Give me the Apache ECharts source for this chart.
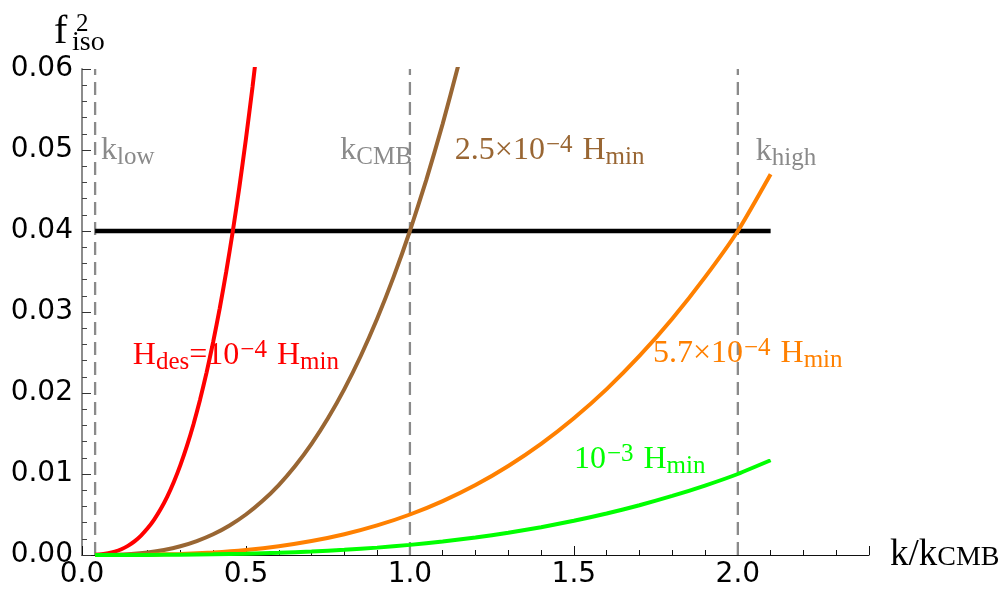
<!DOCTYPE html>
<html>
<head>
<meta charset="utf-8">
<script src="https://cdn.jsdelivr.net/npm/echarts@6/dist/echarts.min.js"></script>
<style>
  html, body { margin: 0; padding: 0; background: #ffffff; }
  #chart { width: 1004px; height: 599px; }
</style>
</head>
<body>
<div id="chart"></div>
<script>
// k / k_CMB samples and f_iso^2 values for each desert Hubble scale
const kRed = [0.04, 0.06, 0.08, 0.10, 0.12, 0.14, 0.16, 0.18, 0.20, 0.22, 0.24, 0.26, 0.28,
              0.30, 0.32, 0.34, 0.36, 0.38, 0.40, 0.42, 0.44, 0.46, 0.48, 0.50, 0.52, 0.54];
const fRed = [0.00003, 0.00009, 0.00021, 0.00041, 0.00071, 0.00113, 0.00168, 0.00240, 0.00329,
              0.00438, 0.00568, 0.00722, 0.00902, 0.01110, 0.01347, 0.01615, 0.01918, 0.02255,
              0.02630, 0.03045, 0.03501, 0.04000, 0.04545, 0.05138, 0.05779, 0.06472];

const kBrown = [0.04, 0.10, 0.15, 0.20, 0.25, 0.30, 0.35, 0.40, 0.45, 0.50, 0.55, 0.60, 0.65,
                0.70, 0.75, 0.80, 0.85, 0.90, 0.95, 1.00, 1.05, 1.10, 1.15];
const fBrown = [0.000003, 0.00004, 0.000135, 0.00032, 0.000625, 0.00108, 0.00172, 0.00256,
                0.00365, 0.00500, 0.00666, 0.00864, 0.01099, 0.01372, 0.01688, 0.02048,
                0.02457, 0.02916, 0.03430, 0.04000, 0.04631, 0.05324, 0.06083];

const kOrange = [0.04, 0.1, 0.2, 0.3, 0.4, 0.5, 0.6, 0.7, 0.8, 0.9, 1.0, 1.1, 1.2, 1.3, 1.4,
                 1.5, 1.6, 1.7, 1.8, 1.9, 2.0, 2.1];
const fOrange = [0.0000003, 0.000005, 0.00004, 0.000135, 0.00032, 0.000625, 0.00108, 0.00172,
                 0.00256, 0.00365, 0.00500, 0.00666, 0.00864, 0.01099, 0.01372, 0.01688,
                 0.02048, 0.02457, 0.02916, 0.03430, 0.04000, 0.04700];

const kGreen = [0.04, 0.1, 0.2, 0.3, 0.4, 0.5, 0.6, 0.7, 0.8, 0.9, 1.0, 1.1, 1.2, 1.3, 1.4,
                1.5, 1.6, 1.7, 1.8, 1.9, 2.0, 2.1];
const fGreen = [0.0, 0.0000013, 0.00001, 0.000034, 0.00008, 0.00016, 0.00027, 0.00043, 0.00064,
                0.00091, 0.00125, 0.00166, 0.00216, 0.00275, 0.00343, 0.00422, 0.00512,
                0.00614, 0.00729, 0.00857, 0.01000, 0.01170];

// observational bound on f_iso^2 and the k range it is drawn over
const fBound = 0.04;
const kBoundRange = [0.04, 2.1];

// reference scales: k_low, k_CMB, k_high
const kScales = [0.04, 1.0, 2.0];

const X_MIN = 0, X_MAX = 2.4, Y_MIN = 0, Y_MAX = 0.06;
const X_STEP = 0.5, Y_STEP = 0.01;

const SERIF = 'Liberation Serif';
const SANS = 'DejaVu Sans';
const WIDTH = 1004;

const zip = (xs, ys) => xs.map((x, i) => [x, ys[i]]);

const curve = (xs, ys, color) => ({
  type: 'line', data: zip(xs, ys), showSymbol: false, smooth: 0.2,
  lineStyle: { color, width: 4 }
});

const scaleLines = kScales.map(k => ({
  type: 'line', data: [[k, Y_MIN], [k, Y_MAX]], showSymbol: false,
  lineStyle: { color: '#8a8a8a', width: 2.3, type: [13, 7] }
}));

const baseOption = {
  animation: false,
  grid: { left: 82, right: 135, top: 69, bottom: 44 },
  xAxis: [{
    type: 'value', min: X_MIN, max: X_MAX, interval: X_STEP,
    axisLine: { show: true, lineStyle: { color: '#111' } },
    axisTick: { show: true, inside: true, length: 9, lineStyle: { color: '#111', width: 1 } },
    minorTick: { show: true, splitNumber: 5, length: 5, lineStyle: { color: '#111', width: 1 } },
    axisLabel: { showMaxLabel: false, margin: 6, formatter: v => v.toFixed(1),
                 fontFamily: SANS, fontSize: 28, color: '#000' },
    splitLine: { show: false }
  }],
  yAxis: [{
    type: 'value', min: Y_MIN, max: Y_MAX, interval: Y_STEP,
    axisLine: { show: true, lineStyle: { color: '#8c8c8c', width: 2 } },
    axisTick: { show: true, inside: true, length: 9, lineStyle: { color: '#333', width: 1 } },
    minorTick: { show: true, splitNumber: 5, length: 5, lineStyle: { color: '#444', width: 1 } },
    axisLabel: { margin: 9, formatter: v => v.toFixed(2),
                 fontFamily: SANS, fontSize: 28, color: '#000' },
    splitLine: { show: false }
  }],
  series: [
    ...scaleLines,
    {
      type: 'line', data: kBoundRange.map(k => [k, fBound]), showSymbol: false,
      lineStyle: { color: '#000', width: 4.5 }
    },
    curve(kRed, fRed, '#ff0000'),
    curve(kBrown, fBrown, '#996633'),
    curve(kOrange, fOrange, '#ff8000'),
    curve(kGreen, fGreen, '#00ff00')
  ]
};

// text annotations, anchored in data coordinates at the main-text baseline
const MAIN = 32, SMALL = 25;
const LINE = SMALL + 14;                       // tallest token: the lowered subscript
const topFromBaseline = b => b - 0.34 * MAIN - LINE / 2;
const richFor = color => ({
  m: { fontFamily: SERIF, fontSize: MAIN, fontWeight: 'normal', color, lineHeight: MAIN },
  s: { fontFamily: SERIF, fontSize: SMALL, fontWeight: 'normal', color, padding: [14, 0, 0, 0], lineHeight: SMALL + 14 },
  p: { fontFamily: SERIF, fontSize: SMALL, fontWeight: 'normal', color, padding: [0, 2, 10, 1], lineHeight: SMALL + 10 }
});

const annotations = [
  { text: '{m|k}{s|low}', at: [0.058, 0.0486], align: 'left', color: '#8a8a8a' },
  { text: '{m|k}{s|CMB}', at: [1.006, 0.0486], align: 'right', color: '#8a8a8a' },
  { text: '{m|2.5×10}{p|−4}{m| H}{s|min}', at: [1.137, 0.0486], align: 'left', color: '#996633' },
  { text: '{m|k}{s|high}', at: [2.055, 0.0485], align: 'left', color: '#8a8a8a' },
  { text: '{m|H}{s|des}{m|=10}{p|−4}{m| H}{s|min}', at: [0.155, 0.0233], align: 'left', color: '#ff0000' },
  { text: '{m|5.7×10}{p|−4}{m| H}{s|min}', at: [1.741, 0.0235], align: 'left', color: '#ff8000' },
  { text: '{m|10}{p|−3}{m| H}{s|min}', at: [1.5, 0.0104], align: 'left', color: '#00ff00' }
];

const dom = document.getElementById('chart');

// lay the axes out once to resolve annotation anchors in pixel space
const probe = echarts.init(dom);
probe.setOption(baseOption);
const anchors = annotations.map(a => probe.convertToPixel({ gridIndex: 0 }, a.at));
probe.dispose();

const titles = annotations.map((a, i) => {
  const [px, py] = anchors[i];
  const t = {
    text: a.text, padding: 0, top: topFromBaseline(py),
    textStyle: { fontFamily: SERIF, fontSize: MAIN, fontWeight: 'normal', color: a.color, rich: richFor(a.color) }
  };
  if (a.align === 'right') t.right = WIDTH - px; else t.left = px;
  return t;
});

// axis titles
const plain = (text, left, baseline, size) => ({
  text: '{t|' + text + '}', padding: 0, left, top: baseline - 0.34 * size - size / 2,
  textStyle: { fontFamily: SERIF, fontSize: size, fontWeight: 'normal', color: '#000',
               rich: { t: { fontFamily: SERIF, fontSize: size, fontWeight: 'normal', color: '#000', lineHeight: size } } }
});
titles.push(
  plain('f', 54, 46, 40),
  plain('2', 76, 33, 25),
  plain('iso', 72, 52, 28),
  {
    text: '{m|k/k}{s|CMB}', padding: 0, left: 890, top: 568 - 0.34 * 37 - 37 / 2,
    textStyle: {
      fontFamily: SERIF, fontSize: 37, fontWeight: 'normal', color: '#000',
      rich: {
        m: { fontFamily: SERIF, fontSize: 37, fontWeight: 'normal', color: '#000', lineHeight: 37 },
        s: { fontFamily: SERIF, fontSize: 28, fontWeight: 'normal', color: '#000', padding: [4, 0, 0, 0], lineHeight: 32 }
      }
    }
  }
);

const chart = echarts.init(dom);
chart.setOption(Object.assign({}, baseOption, { title: titles }));
</script>
</body>
</html>
